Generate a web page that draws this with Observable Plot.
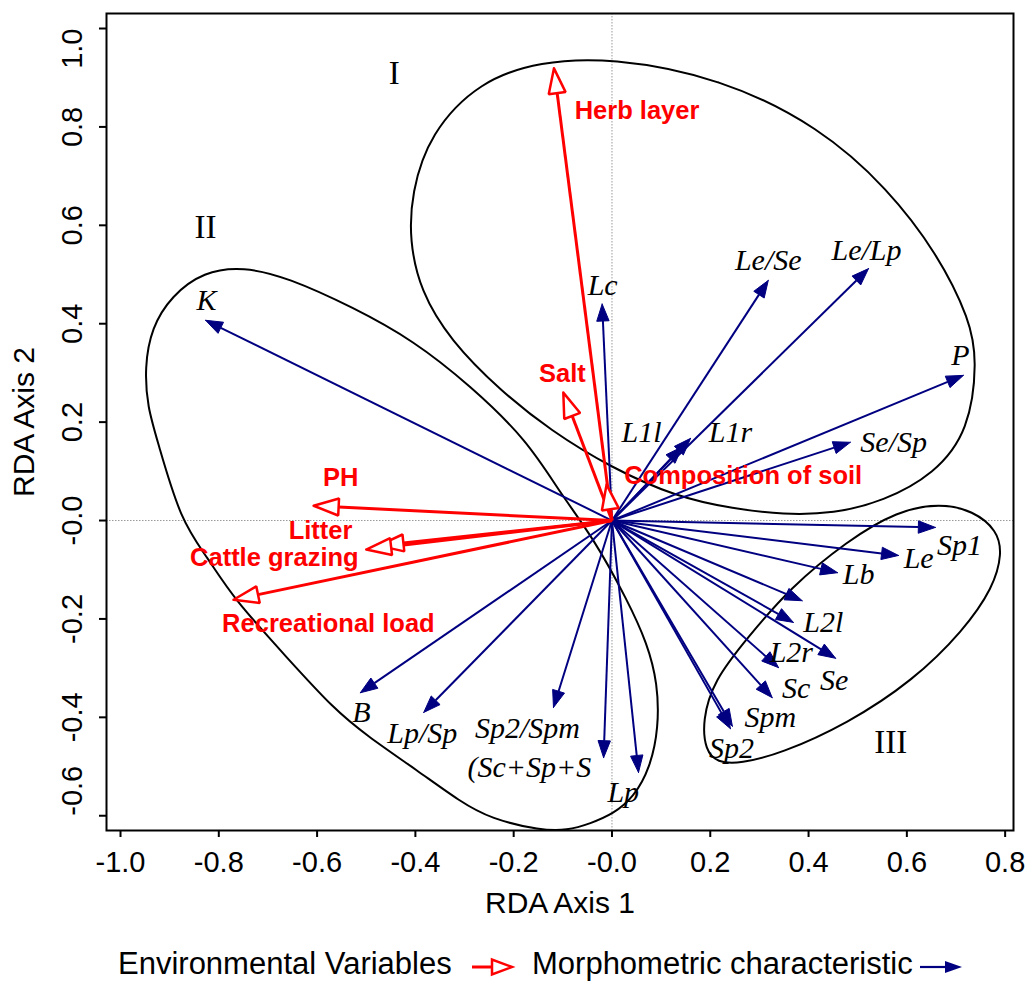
<!DOCTYPE html>
<html><head><meta charset="utf-8">
<script src="https://cdn.jsdelivr.net/npm/d3@7"></script>
<script src="https://cdn.jsdelivr.net/npm/@observablehq/plot@0.6"></script>
<style>
body{margin:0;background:#fff;width:1028px;height:981px;position:relative;overflow:hidden;font-family:"Liberation Sans",Arial,sans-serif;}
#chart{position:absolute;left:0;top:0;}
#legend{position:absolute;left:0;top:947px;height:34px;width:1028px;font-size:31px;color:#000;}
#legend span{position:absolute;top:0;line-height:34px;white-space:nowrap;}
#legend svg{position:absolute;top:0;}
</style></head><body>
<div id="chart"></div>
<div id="legend">
<span style="left:118px">Environmental Variables</span>
<svg style="left:468px" width="50" height="34"><line x1="4" y1="20" x2="24" y2="20" stroke="#ff0000" stroke-width="3"/><polygon points="44,20 24,12.5 24,27.5" fill="#fff" stroke="#ff0000" stroke-width="2.5"/></svg>
<span style="left:532px">Morphometric characteristic</span>
<svg style="left:918px" width="50" height="34"><line x1="2" y1="20" x2="30" y2="20" stroke="#000080" stroke-width="2.2"/><polygon points="44,20 27,14 27,26" fill="#000080"/></svg>
</div>
<script>
// ---- axis ticks ----
const xTicks = [-1.0, -0.8, -0.6, -0.4, -0.2, 0, 0.2, 0.4, 0.6, 0.8];
const xTickLabels = ["-1.0", "-0.8", "-0.6", "-0.4", "-0.2", "-0.0", "0.2", "0.4", "0.6", "0.8"];
const yTicks = [-0.6, -0.4, -0.2, 0, 0.2, 0.4, 0.6, 0.8, 1.0];
const yTickLabels = ["-0.6", "-0.4", "-0.2", "-0.0", "0.2", "0.4", "0.6", "0.8", "1.0"];

// ---- environmental variables (red, open heads) ----
const envNames = ["Herb layer", "Salt", "Composition of soil", "PH", "Litter", "Cattle grazing", "Recreational load"];
const envX = [-0.118, -0.099, -0.011, -0.607, -0.475, -0.500, -0.770];
const envY = [0.919, 0.260, 0.073, 0.030, -0.051, -0.059, -0.161];
const envLabelX = [0.051, -0.101, 0.267, -0.552, -0.593, -0.687, -0.577];
const envLabelY = [0.833, 0.299, 0.0915, 0.087, -0.020, -0.075, -0.209];

// ---- morphometric characteristics (navy, filled heads) ----
const morphNames = ["K", "Lc", "Le/Se", "Le/Lp", "P", "Se/Sp", "L1l", "L1r", "Sp1", "Le", "Lb", "", "L2l", "Se", "L2r", "Sc", "Spm", "Sp2", "Lp", "(Sc+Sp+S", "Sp2/Spm", "Lp/Sp", "B"];
const morphX = [-0.827, -0.020, 0.318, 0.522, 0.715, 0.485, 0.143, 0.160, 0.658, 0.583, 0.459, 0.387, 0.369, 0.455, 0.339, 0.326, 0.245, 0.241, 0.054, -0.017, -0.119, -0.383, -0.512];
const morphY = [0.407, 0.440, 0.488, 0.512, 0.295, 0.159, 0.150, 0.167, -0.014, -0.071, -0.106, -0.163, -0.207, -0.280, -0.299, -0.360, -0.418, -0.423, -0.512, -0.482, -0.380, -0.390, -0.350];
const morphLabelX = [-0.825, -0.019, 0.318, 0.518, 0.709, 0.573, 0.060, 0.241, 0.707, 0.624, 0.502, 0, 0.430, 0.452, 0.365, 0.375, 0.322, 0.243, 0.023, -0.168, -0.172, -0.386, -0.510];
const morphLabelY = [0.447, 0.478, 0.528, 0.549, 0.335, 0.159, 0.179, 0.179, -0.051, -0.077, -0.110, 0, -0.207, -0.325, -0.268, -0.341, -0.400, -0.463, -0.553, -0.502, -0.423, -0.433, -0.390];

// ---- group outlines ----
const hullI = [[-0.003,0.941],[0.221,0.900],[0.424,0.799],[0.561,0.675],[0.662,0.543],[0.729,0.407],[0.743,0.325],[0.727,0.183],[0.656,0.094],[0.552,0.039],[0.451,0.014],[0.349,0.012],[0.247,0.024],[0.133,0.047],[-0.003,0.108],[-0.125,0.183],[-0.227,0.264],[-0.329,0.366],[-0.390,0.467],[-0.412,0.569],[-0.408,0.665],[-0.371,0.787],[-0.268,0.894],[-0.146,0.933]];
const hullII = [[-0.750,0.516],[-0.660,0.494],[-0.526,0.433],[-0.404,0.366],[-0.288,0.274],[-0.172,0.163],[-0.105,0.055],[-0.038,-0.035],[0.032,-0.163],[0.072,-0.250],[0.093,-0.331],[0.095,-0.421],[0.078,-0.502],[0.044,-0.563],[0.003,-0.596],[-0.044,-0.616],[-0.091,-0.630],[-0.145,-0.630],[-0.247,-0.606],[-0.308,-0.572],[-0.396,-0.508],[-0.498,-0.438],[-0.567,-0.382],[-0.659,-0.281],[-0.770,-0.159],[-0.823,-0.075],[-0.878,0.000],[-0.925,0.163],[-0.945,0.230],[-0.951,0.311],[-0.937,0.392],[-0.896,0.457],[-0.831,0.506]];
const hullIII = [[0.184,-0.407],[0.207,-0.325],[0.276,-0.238],[0.363,-0.136],[0.479,-0.041],[0.581,0.020],[0.668,0.035],[0.735,0.020],[0.784,-0.020],[0.794,-0.067],[0.776,-0.136],[0.715,-0.224],[0.613,-0.325],[0.479,-0.413],[0.343,-0.474],[0.261,-0.494],[0.214,-0.492],[0.190,-0.467]];
const groupNames = ["I", "II", "III"];
const groupX = [-0.443, -0.827, 0.567];
const groupY = [0.909, 0.596, -0.451];

// ---- layout ----
const W = 1028, H = 940, mL = 106, mR = 15, mT = 13, mB = 110;
const xDomain = [-1.0285, 0.817], yDomain = [-0.630, 1.0305];
const kx = (W - mL - mR) / (xDomain[1] - xDomain[0]);
const ky = (H - mT - mB) / (yDomain[1] - yDomain[0]);
const RED = "#ff0000", NAVY = "#000080";

function arrowGeom(tx, ty, L, hw, id) {
  const px = tx * kx, py = ty * ky;
  const len = Math.hypot(px, py);
  const ux = px / len, uy = py / len;
  const bx = px - L * ux, by = py - L * uy;
  const pts = [[px, py], [bx - hw * uy, by + hw * ux], [bx + hw * uy, by - hw * ux], [px, py]];
  return {base: {id, x: bx / kx, y: by / ky}, poly: pts.map(([a, b]) => ({id, x: a / kx, y: b / ky}))};
}

const env = envNames.map((n, i) => ({name: n, x: envX[i], y: envY[i], lx: envLabelX[i], ly: envLabelY[i]}));
const morph = morphNames.map((n, i) => ({name: n, x: morphX[i], y: morphY[i], lx: morphLabelX[i], ly: morphLabelY[i]}));
const envG = env.map((d, i) => arrowGeom(d.x, d.y, 25, 8.5, "e" + i));
const morphG = morph.map((d, i) => arrowGeom(d.x, d.y, 17, 6.2, "m" + i));
const hulls = [hullI, hullII, hullIII].flatMap((h, g) => h.map(([x, y]) => ({g, x, y})));
const groups = groupNames.map((n, i) => ({name: n, x: groupX[i], y: groupY[i]}));
const yLab = yTicks.map((v, i) => ({v, t: yTickLabels[i], i}));
const last = yTicks.length - 1;

const chart = Plot.plot({
  width: W, height: H,
  marginLeft: mL, marginRight: mR, marginTop: mT, marginBottom: mB,
  x: {domain: xDomain},
  y: {domain: yDomain},
  style: {fontFamily: "'Liberation Sans', Arial, sans-serif", background: "white", color: "black", overflow: "visible"},
  marks: [
    Plot.ruleX([0], {stroke: "#999", strokeWidth: 1, strokeDasharray: "1.5,1.5"}),
    Plot.ruleY([0], {stroke: "#999", strokeWidth: 1, strokeDasharray: "1.5,1.5"}),
    Plot.line(hulls, {x: "x", y: "y", z: "g", curve: "basis-closed", stroke: "black", strokeWidth: 2}),
    Plot.link(morphG.map(g => g.base), {x1: () => 0, y1: () => 0, x2: "x", y2: "y", stroke: NAVY, strokeWidth: 2}),
    Plot.line(morphG.flatMap(g => g.poly), {x: "x", y: "y", z: "id", fill: NAVY, stroke: NAVY, strokeWidth: 1}),
    Plot.link(envG.map(g => g.base), {x1: () => 0, y1: () => 0, x2: "x", y2: "y", stroke: RED, strokeWidth: 3}),
    Plot.line(envG.flatMap(g => g.poly), {x: "x", y: "y", z: "id", fill: "white", stroke: RED, strokeWidth: 2.5, strokeLinejoin: "miter"}),
    Plot.text(morph.filter(d => d.name), {x: "lx", y: "ly", text: "name", fontFamily: "'Liberation Serif', 'Times New Roman', serif", fontStyle: "italic", fontSize: 30, fill: "black"}),
    Plot.text(env, {x: "lx", y: "ly", text: "name", fontFamily: "'Liberation Sans', Arial, sans-serif", fontWeight: "bold", fontSize: 25.5, fill: RED}),
    Plot.text(groups, {x: "x", y: "y", text: "name", fontFamily: "'Liberation Serif', 'Times New Roman', serif", fontSize: 33, fill: "black"}),
    Plot.frame({stroke: "black", strokeWidth: 2}),
    Plot.axisX({ticks: xTicks, tickSize: 7, tickPadding: 14, fontSize: 29, strokeWidth: 2, label: null,
      tickFormat: d => xTickLabels[xTicks.indexOf(d)]}),
    Plot.axisY({ticks: yTicks, tickSize: 7, strokeWidth: 2, label: null, tickFormat: () => ""}),
    Plot.text(yLab.filter(d => d.i > 0 && d.i < last), {y: "v", text: "t", frameAnchor: "left", textAnchor: "middle", rotate: -90, dx: -34, fontSize: 29, fill: "black"}),
    Plot.text(yLab.filter(d => d.i === last), {y: "v", text: "t", frameAnchor: "left", textAnchor: "end", rotate: -90, dx: -34, fontSize: 29, fill: "black"}),
    Plot.text(yLab.filter(d => d.i === 0), {y: "v", text: "t", frameAnchor: "left", textAnchor: "start", rotate: -90, dx: -34, fontSize: 29, fill: "black"}),
    Plot.text(["RDA Axis 1"], {frameAnchor: "bottom", text: d => d, textAnchor: "middle", dy: 82, fontSize: 30, fill: "black"}),
    Plot.text(["RDA Axis 2"], {frameAnchor: "left", text: d => d, textAnchor: "middle", rotate: -90, dx: -82, fontSize: 30, fill: "black"})
  ]
});
document.getElementById("chart").appendChild(chart);
</script>
</body></html>
